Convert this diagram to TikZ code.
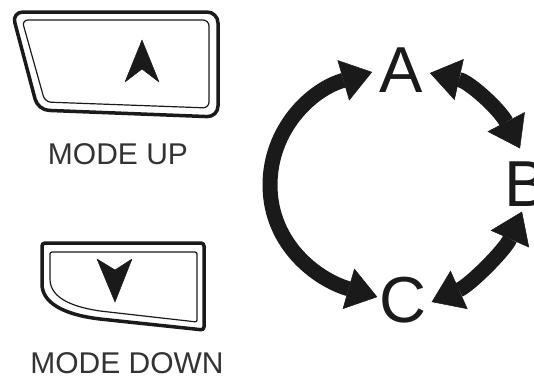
\documentclass[tikz,border=0pt]{standalone}
\usepackage{fontspec}
\setmainfont{Liberation Sans}
\usepackage{tikz}
\usetikzlibrary{arrows.meta}
\definecolor{ink}{HTML}{1A1A1A}
\definecolor{txtc}{HTML}{333333}
\tikzset{
  ar/.style={{Triangle[length=30pt,width=42pt,line width=0.5pt]}-{Triangle[length=30pt,width=42pt,line width=0.5pt]},line width=15pt,ink},
  btn/.style={draw=ink,line width=3.5pt,line join=round},
  btnin/.style={draw=ink,line width=1.2pt,line join=round},
  chev/.style={fill=ink,draw=ink,line width=0.5pt,line join=round},
  lbl/.style={inner sep=0pt,text=txtc,font=\fontsize{30}{36}\selectfont},
  let/.style={inner sep=0pt,text=ink,font=\fontsize{65}{70}\selectfont}
}
\begin{document}
\begin{tikzpicture}[x=1pt,y=-1pt]
\useasboundingbox (0,0) rectangle (534,378);
% mode up button
\draw[btn,rounded corners=11pt] (12,12) -- (218,12) -- (218,117) -- (38,110) -- cycle;
\draw[btnin,rounded corners=6pt] (22,20) -- (209,20) -- (209,108) -- (45,102) -- cycle;
\draw[chev] (142,40) -- (159,82) -- (142,69) -- (125,82) -- cycle;
\node[lbl] (up) at (118,154) {MODE UP};
% mode down button
\draw[btn,rounded corners=3pt] (42,243) -- (204,243) -- (204,330) -- (100,319)
  .. controls (62,314) and (42,302) .. (42,281) -- cycle;
\draw[btnin,rounded corners=2pt] (50,252) -- (197,252) -- (197,322) -- (100,311)
  .. controls (68,306) and (50,296) .. (50,277) -- cycle;
\draw[chev] (97,259) -- (115,270) -- (132,259) -- (115,302) -- cycle;
\node[lbl] (down) at (127,363) {MODE DOWN};
% cycle of modes
\node[let] (A) at (401,70) {A};
\node[let] (B) at (526,184) {B};
\node[let] (C) at (403,300) {C};
\draw[ar] ([shift={(-7pt,-2pt)}]A.west) .. controls (310,90) and (270,130) .. (270,185)
  .. controls (270,245) and (318,280) .. ([shift={(-2pt,3pt)}]C.west);
\draw[ar] ([shift={(7pt,-3pt)}]A.east) .. controls (470,82) and (500,110) .. ([shift={(-6pt,13pt)}]B.north);
\draw[ar] ([shift={(5pt,-2pt)}]C.east) .. controls (470,285) and (505,250) .. ([shift={(-4pt,-5pt)}]B.south);
\end{tikzpicture}
\end{document}
